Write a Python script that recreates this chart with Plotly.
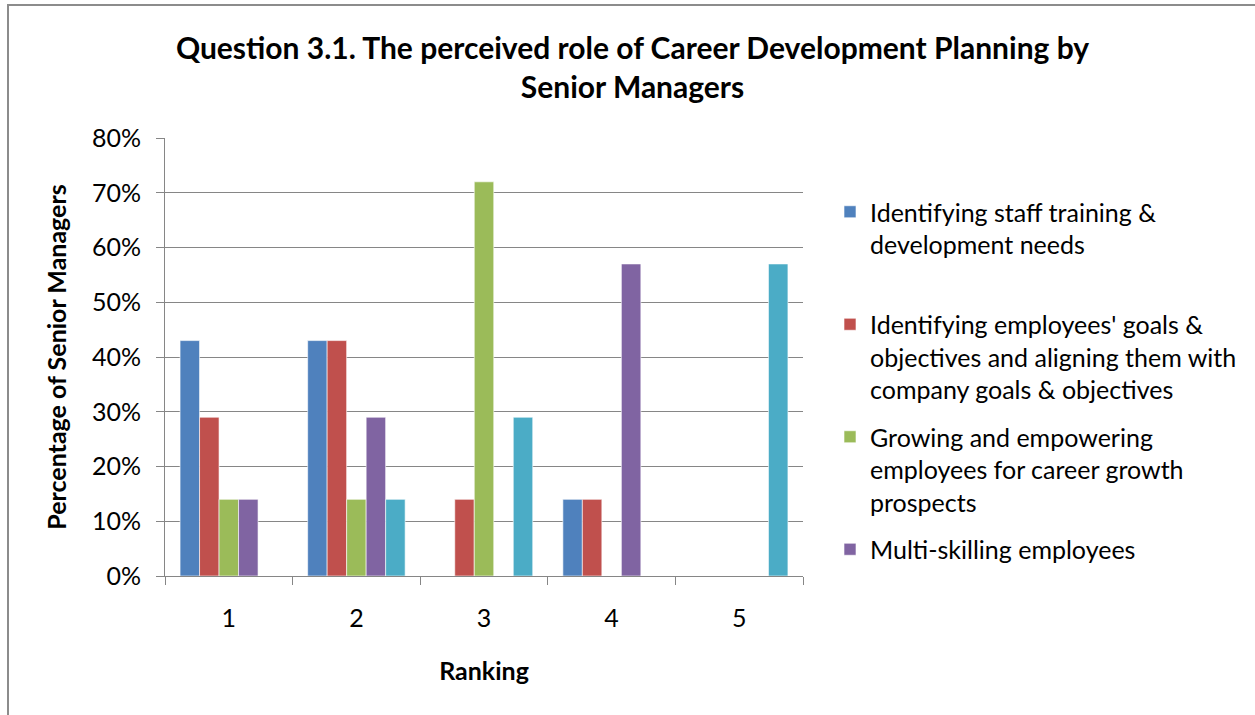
import plotly.graph_objects as go

categories = ["1", "2", "3", "4", "5"]
series_names = [
    "Identifying staff training &<br>development needs<br> ",
    "Identifying employees' goals &<br>objectives and aligning them with<br>company goals & objectives",
    "Growing and empowering<br>employees for career growth<br>prospects",
    "Multi-skilling employees",
    "Other",
]
staff_training = [0.43, 0.43, 0.0, 0.14, 0.0]
employee_goals = [0.29, 0.43, 0.14, 0.14, 0.0]
growing_empowering = [0.14, 0.14, 0.72, 0.0, 0.0]
multi_skilling = [0.14, 0.29, 0.0, 0.57, 0.0]
other = [0.0, 0.14, 0.29, 0.0, 0.57]
series_values = [staff_training, employee_goals, growing_empowering, multi_skilling, other]
colors = ["#4F81BD", "#C0504D", "#9BBB59", "#8064A2", "#4BACC6"]
show_legend = [True, True, True, True, False]

FONT = "Lato"

fig = go.Figure()
for i, (name, vals) in enumerate(zip(series_names, series_values)):
    fig.add_trace(go.Bar(
        x=categories, y=vals, name=name,
        marker=dict(color=colors[i], line=dict(color="rgba(255,255,255,0.6)", width=1)),
        showlegend=show_legend[i], legendgroup=f"g{i}",
    ))

L, R, T, B = 165, 452, 138, 139
W, H = 1255, 715
pw, ph = W - L - R, H - T - B

fig.update_layout(
    width=W, height=H,
    margin=dict(l=L, r=R, t=T, b=B, autoexpand=False),
    paper_bgcolor="white", plot_bgcolor="white",
    barmode="group", bargap=0.236, bargroupgap=0,
    font=dict(family=FONT, color="#000000"),
    title=dict(
        text="<b>Question 3.1. The perceived role of Career Development Planning by<br>Senior Managers</b>",
        x=0.504, xref="container", xanchor="center",
        y=1 - 58.5 / H, yref="container", yanchor="middle",
        font=dict(family=FONT, size=30, color="#000000"),
    ),
    legend=dict(
        x=(830 - L) / pw, xanchor="left", xref="paper",
        y=(576 - 189) / ph, yanchor="top", yref="paper",
        font=dict(family=FONT, size=25, color="#000000"),
        valign="top", tracegroupgap=12, traceorder="grouped",
        itemwidth=30, bgcolor="rgba(0,0,0,0)",
    ),
    xaxis=dict(
        type="category", tickson="boundaries", ticks="outside", ticklen=8,
        tickcolor="#868686", showline=True, linecolor="#868686", linewidth=1,
        tickfont=dict(family=FONT, size=25, color="#000000"),
        ticklabelstandoff=20,
        title=dict(text="<b>Ranking</b>", font=dict(family=FONT, size=25, color="#000000"), standoff=31),
        showgrid=False,
    ),
    yaxis=dict(
        range=[0, 0.8], dtick=0.1, tickformat=".0%",
        ticks="outside", ticklen=8, tickcolor="#868686",
        showline=True, linecolor="#868686", linewidth=1,
        showgrid=True, gridcolor="#868686", gridwidth=1,
        tickfont=dict(family=FONT, size=25, color="#000000"),
        ticklabelstandoff=10,
        title=dict(text="<b>Percentage of Senior Managers</b>", font=dict(family=FONT, size=25, color="#000000"), standoff=18),
        zeroline=False,
    ),
    shapes=[dict(
        type="rect", xref="paper", yref="paper",
        x0=(8 - L) / pw, x1=(1262 - L) / pw,
        y0=(576 - 722) / ph, y1=(576 - 5) / ph,
        line=dict(color="#8c8c8c", width=2), fillcolor="rgba(0,0,0,0)", layer="below",
    )],
)

fig.write_html(
    "out.html",
    config={"displayModeBar": False},
    post_script="document.body.style.margin='0';document.body.style.padding='0';",
)
